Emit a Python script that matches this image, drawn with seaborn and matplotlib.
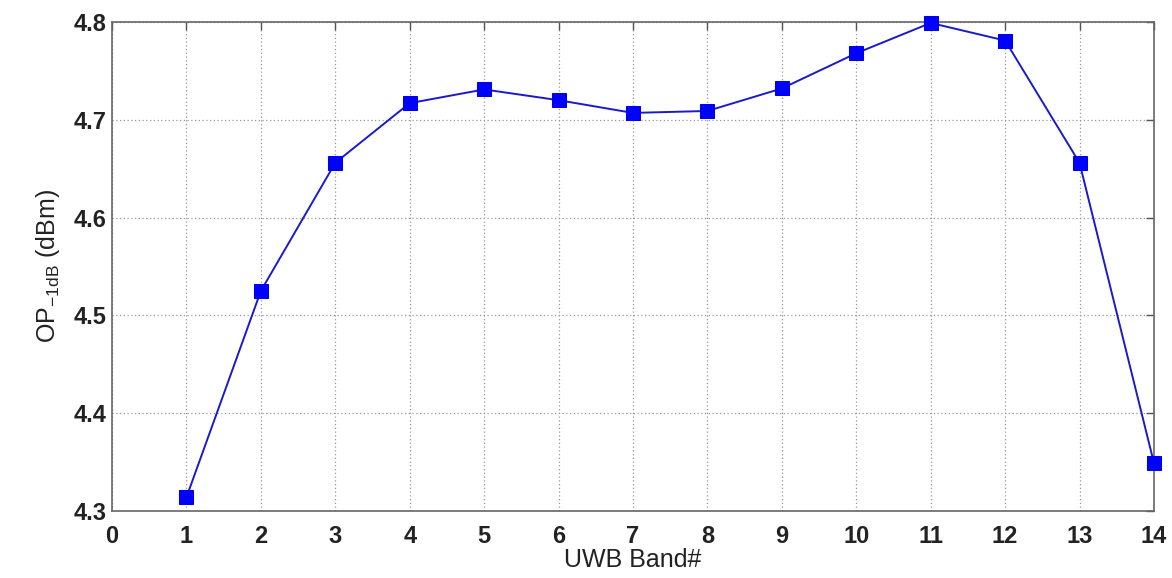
import matplotlib
matplotlib.use("Agg")
import matplotlib.pyplot as plt
import seaborn as sns
import pandas as pd

bands = [1, 2, 3, 4, 5, 6, 7, 8, 9, 10, 11, 12, 13, 14]
op1db = [4.314, 4.525, 4.656, 4.717, 4.731, 4.720, 4.707, 4.709, 4.732, 4.768, 4.799, 4.781, 4.656, 4.349]
xticks = list(range(0, 15))
yticks = [4.3, 4.4, 4.5, 4.6, 4.7, 4.8]

sns.set_theme(style="white")
plt.rcParams['font.family'] = ['Liberation Sans', 'DejaVu Sans']
plt.rcParams['mathtext.fontset'] = 'custom'
plt.rcParams['mathtext.rm'] = 'Liberation Sans'

df = pd.DataFrame({"band": bands, "op": op1db})

fig = plt.figure(figsize=(11.72, 5.78), dpi=100)
ax = fig.add_axes([0.0956, 0.116, 0.889, 0.846])
sns.lineplot(data=df, x="band", y="op", ax=ax, color="#1a1acc", linewidth=1.4,
             marker="s", markersize=10, markeredgecolor="#0000ee", markerfacecolor="#0000ff",
             clip_on=False, zorder=5)

ax.set_xlim(0, 14)
ax.set_ylim(4.3, 4.8)
ax.set_xticks(xticks)
ax.set_yticks(yticks)
ax.set_xticklabels([str(t) for t in xticks], fontsize=17, fontweight="bold", color="#222222")
ax.set_yticklabels([f"{t:.1f}" for t in yticks], fontsize=17, fontweight="bold", color="#222222")
ax.grid(True, linestyle=(0, (1, 2)), color="#999999", linewidth=0.9)
ax.tick_params(direction="in", length=6, width=1, top=True, right=True, colors="#555555",
               labelcolor="#222222")
ax.tick_params(axis="x", pad=10)
ax.tick_params(axis="y", pad=4)
for s in ax.spines.values():
    s.set_color("#666666")
    s.set_linewidth(1.2)
ax.set_xlabel("UWB Band#", fontsize=18, color="#222222", labelpad=0)
ax.set_ylabel(r"OP$_{\mathregular{-1dB}}$ (dBm)", fontsize=18, color="#222222", labelpad=8)

fig.savefig("out.png", dpi=100)
